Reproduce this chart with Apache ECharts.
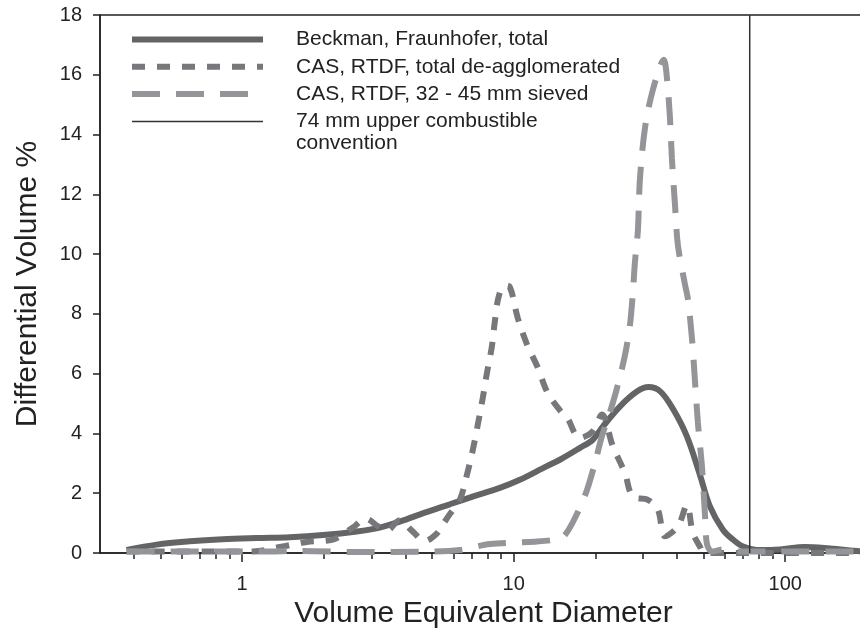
<!DOCTYPE html>
<html><head><meta charset="utf-8">
<script src="https://cdn.jsdelivr.net/npm/echarts@6/dist/echarts.min.js"></script>
<style>html,body{margin:0;padding:0;background:#fff}#c{width:860px;height:628px}</style>
</head><body><div id="c"></div>
<script>
// ---- data ----
const beckmanX = [0.376, 0.485, 0.642, 0.849, 1.133, 1.498, 1.984, 2.646, 3.215, 3.809, 4.709, 5.821, 7.195, 8.897, 10.54, 13.2, 14.8, 17.5, 19.57, 21.3, 24.61, 28.43, 31.37, 34.73, 38.78, 43.44, 48.5, 52.8, 58.96, 64.2, 70, 80.7, 95.5, 118, 146, 188, 200];
const beckmanY = [0.1, 0.28, 0.39, 0.46, 0.5, 0.53, 0.6, 0.72, 0.85, 1.05, 1.35, 1.63, 1.91, 2.18, 2.45, 2.9, 3.12, 3.51, 3.79, 4.23, 4.9, 5.4, 5.55, 5.4, 4.79, 3.9, 2.62, 1.56, 0.78, 0.45, 0.22, 0.1, 0.12, 0.2, 0.15, 0.06, 0.05];

const casTotalX = [0.376, 0.59, 1.095, 1.412, 1.731, 2.159, 2.557, 2.856, 3.161, 3.412, 3.809, 4.217, 4.709, 5.213, 5.486, 5.821, 6.337, 6.724, 7.075, 7.382, 7.702, 7.967, 8.313, 8.528, 8.822, 9.282, 9.683, 10.36, 11.18, 12.28, 13.36, 15.18, 15.7, 17.53, 19.57, 21.13, 23.19, 25.68, 27.48, 31.2, 33.97, 36.06, 40.25, 43.44, 45.71, 48.5, 50.2, 57.5, 100, 200];
const casTotalY = [0.05, 0.05, 0.05, 0.22, 0.37, 0.45, 0.85, 1.15, 0.9, 0.75, 1.1, 0.75, 0.4, 0.65, 0.95, 1.3, 1.78, 2.6, 3.45, 4.3, 5.2, 6.0, 6.9, 7.75, 8.6, 8.95, 8.9, 7.86, 7.0, 6.2, 5.35, 4.65, 4.55, 3.85, 4.07, 4.63, 3.57, 2.68, 1.89, 1.78, 1.45, 0.56, 0.89, 1.6, 0.67, 0.22, 0.02, 0, 0, 0];

const casSievedX = [0.376, 0.699, 1.192, 1.631, 2.713, 4.513, 6.337, 8.173, 11.97, 14.18, 15.44, 17.09, 18.61, 19.91, 21.13, 22.61, 23.99, 25.68, 26.79, 27.48, 27.95, 28.68, 29.17, 30.43, 32.56, 35.74, 36.67, 37.61, 38.26, 39.24, 40.25, 42.71, 43.81, 45.33, 46.49, 47.7, 49.35, 50.62, 51.49, 53.7, 58.96, 68.1, 95.5, 200];
const casSievedY = [0.05, 0.05, 0.05, 0.07, 0.03, 0.04, 0.1, 0.3, 0.38, 0.45, 0.6, 1.3, 2.1, 3.0, 3.9, 4.7, 5.5, 6.6, 7.6, 8.7, 9.7, 10.8, 12.5, 14.2, 15.5, 16.5, 15.9, 14.6, 13.2, 11.7, 10.3, 9.0, 8.5, 7.2, 5.8, 4.35, 2.9, 1.3, 0.3, 0.05, 0.12, 0.05, 0.05, 0.05];

const cutoffX = [74, 74];
const cutoffY = [0, 18];

const seriesNames = ['Beckman, Fraunhofer, total', 'CAS, RTDF, total de-agglomerated', 'CAS, RTDF, 32 - 45 mm sieved', '74 mm upper combustible convention'];
const legendLine4 = ['74 mm upper combustible', 'convention'];

const xMajorTicks = [1, 10, 100];
const xMinorTicks = [0.4, 0.5, 0.6, 0.7, 0.8, 0.9, 2, 3, 4, 5, 6, 7, 8, 9, 20, 30, 40, 50, 60, 70, 80, 90];
const yTicks = [0, 2, 4, 6, 8, 10, 12, 14, 16, 18];

// ---- chart ----
const pairs = (xs, ys) => xs.map((x, i) => [x, ys[i]]);
const FONT = '"Liberation Sans", Arial, Helvetica, sans-serif';
const INK = '#222';
const chart = echarts.init(document.getElementById('c'), null, {renderer: 'canvas'});

const option = {
  animation: false,
  backgroundColor: '#fff',
  textStyle: {fontFamily: FONT, color: INK},
  grid: {left: 100, top: 15, width: 767, height: 538, show: true, borderColor: INK, borderWidth: 1.5,
         containLabel: false, outerBoundsMode: 'none'},
  xAxis: [{
    type: 'log', logBase: 10, min: 0.3, max: 200,
    name: 'Volume Equivalent Diameter', nameLocation: 'middle', nameGap: 44,
    nameTextStyle: {fontSize: 30, color: INK, fontFamily: FONT},
    axisLine: {show: true, lineStyle: {color: INK, width: 1.5}},
    axisTick: {show: true, customValues: xMajorTicks, length: 9, lineStyle: {color: INK, width: 1.5}},
    axisLabel: {customValues: xMajorTicks, fontSize: 20, color: INK, margin: 21, fontFamily: FONT},
    splitLine: {show: false}, minorTick: {show: false}
  }, {
    type: 'log', logBase: 10, min: 0.3, max: 200, position: 'bottom', offset: 0,
    axisLine: {show: false},
    axisTick: {show: true, customValues: xMinorTicks, length: 6, lineStyle: {color: INK, width: 1.5}},
    axisLabel: {show: false}, splitLine: {show: false}
  }],
  yAxis: {
    type: 'value', min: 0, max: 18, interval: 2,
    name: 'Differential Volume %', nameLocation: 'middle', nameGap: 57,
    nameTextStyle: {fontSize: 30, color: INK, fontFamily: FONT},
    axisLine: {show: true, lineStyle: {color: INK, width: 1.5}},
    axisTick: {show: true, length: 7, lineStyle: {color: INK, width: 1.5}},
    axisLabel: {fontSize: 20, color: INK, margin: 18, fontFamily: FONT, customValues: yTicks},
    splitLine: {show: false}
  },
  legend: {
    orient: 'vertical', left: 124, top: 24, padding: 5,
    itemWidth: 131, itemHeight: 14, itemGap: 6.3,
    selectedMode: false,
    data: seriesNames,
    itemStyle: {opacity: 0},
    lineStyle: {width: 'inherit'},
    textStyle: {fontSize: 21, lineHeight: 20, color: INK, fontFamily: FONT, padding: [0, 0, 0, 28]},
    formatter: n => (n === seriesNames[3] ? legendLine4[0] : n)
  },
  graphic: [{
    type: 'text', left: 296, top: 133,
    style: {text: legendLine4[1], fontSize: 21, fontFamily: FONT, fill: INK}
  }],
  series: [{
    name: seriesNames[0], type: 'line', data: pairs(beckmanX, beckmanY),
    showSymbol: false, symbol: 'none', smooth: 0.35,
    lineStyle: {color: '#636466', width: 6}, itemStyle: {color: '#636466'}
  }, {
    name: seriesNames[1], type: 'line', data: pairs(casTotalX, casTotalY),
    showSymbol: false, symbol: 'none', smooth: 0.35,
    lineStyle: {color: '#77787b', width: 6, type: [13, 12]}, itemStyle: {color: '#77787b'}
  }, {
    name: seriesNames[2], type: 'line', data: pairs(casSievedX, casSievedY),
    showSymbol: false, symbol: 'none', smooth: 0.3,
    lineStyle: {color: '#949598', width: 6, type: [28, 16]}, itemStyle: {color: '#949598'}
  }, {
    name: seriesNames[3], type: 'line', data: pairs(cutoffX, cutoffY),
    showSymbol: false, symbol: 'none',
    lineStyle: {color: '#333', width: 1.5}, itemStyle: {color: '#333'}
  }]
};
chart.setOption(option);
</script>
</body></html>
